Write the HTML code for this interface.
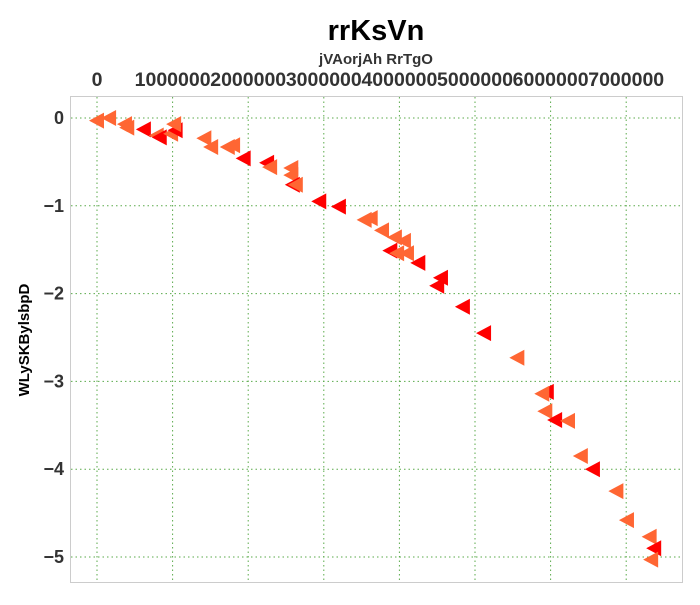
<!DOCTYPE html>
<html><head><meta charset="utf-8"><style>
body{margin:0;background:#fff;font-family:"Liberation Sans",sans-serif}
svg text{font-family:"Liberation Sans",sans-serif;font-weight:bold}
</style></head><body>
<svg width="700" height="600">
<text x="376" y="40" font-size="29" text-anchor="middle">rrKsVn</text>
<text x="376" y="64" font-size="15" text-anchor="middle" fill="#333">jVAorjAh RrTgO</text>
<text transform="translate(29,340) rotate(-90)" font-size="15" text-anchor="middle">WLySKBylsbpD</text>
<rect x="70.5" y="96.5" width="612" height="486" fill="#fff" stroke="#ccc"/>
<g id="grid"></g><g id="ticks"></g><g id="marks"></g>
</svg>
<script>
const xTicks=[0,1000000,2000000,3000000,4000000,5000000,6000000,7000000];
const yTicks=[0,-1,-2,-3,-4,-5];
const xVals=[0,0.16,0.37,0.40,0.62,0.79,0.83,0.98,1.04,1.02,1.42,1.51,1.73,1.80,1.94,2.25,2.29,2.57,2.57,2.59,2.63,2.94,3.20,3.54,3.62,3.77,3.94,4.06,3.88,3.97,4.10,4.25,4.55,4.50,4.84,5.12,5.56,5.95,5.89,5.93,6.06,6.23,6.40,6.56,6.87,7.01,7.31,7.37,7.33];
const yVals=[-0.03,0.0,-0.07,-0.11,-0.13,-0.2,-0.22,-0.18,-0.14,-0.07,-0.23,-0.33,-0.33,-0.31,-0.46,-0.51,-0.56,-0.57,-0.65,-0.76,-0.76,-0.95,-1.01,-1.16,-1.14,-1.28,-1.36,-1.40,-1.51,-1.54,-1.54,-1.65,-1.82,-1.91,-2.15,-2.45,-2.73,-3.12,-3.14,-3.34,-3.44,-3.45,-3.85,-4.00,-4.25,-4.58,-4.77,-4.90,-5.03];
const groups=["O","O","O","O","R","O","R","O","R","O","O","O","O","O","R","R","O","O","O","R","O","R","R","O","O","O","O","O","R","O","O","R","R","R","R","R","O","R","O","O","R","O","O","R","O","O","O","R","O"];
const NS="http://www.w3.org/2000/svg";
const xs=v=>97+v/1000000*75.6;
const ys=v=>118-v*87.8;
const grid=document.getElementById('grid'),ticks=document.getElementById('ticks'),marks=document.getElementById('marks');
function mk(tag,attrs,parent){const e=document.createElementNS(NS,tag);for(const k in attrs)e.setAttribute(k,attrs[k]);parent.appendChild(e);return e;}
xTicks.forEach(t=>{
 const l=mk('line',{x1:xs(t),x2:xs(t),y1:97,y2:582,stroke:'#5aaa4a','stroke-dasharray':'1.5,3','stroke-width':1},grid);
 
 
 const tx=mk('text',{x:xs(t),y:86,'font-size':19.5,'text-anchor':'middle',fill:'#333'},ticks);
 tx.textContent=String(t);
 
 
});
yTicks.forEach(t=>{
 const l=mk('line',{x1:71,x2:682,y1:ys(t),y2:ys(t),stroke:'#5aaa4a','stroke-dasharray':'1.5,3','stroke-width':1},grid);
 
 
 const tx=mk('text',{x:64,y:ys(t)+6,'font-size':18,'text-anchor':'end',fill:'#333'},ticks);
 tx.textContent=t<0?'\u2212'+Math.abs(t):String(t);
 
 
});
xVals.forEach((v,i)=>{
 const cx=xs(v*1000000),cy=ys(yVals[i]);
 const p=mk('polygon',{points:`${cx-8},${cy} ${cx+7},${cy-8} ${cx+7},${cy+8}`,fill:groups[i]==='R'?'#ff0000':'#ff6633'},marks);
 
 
});
</script>
</body></html>
